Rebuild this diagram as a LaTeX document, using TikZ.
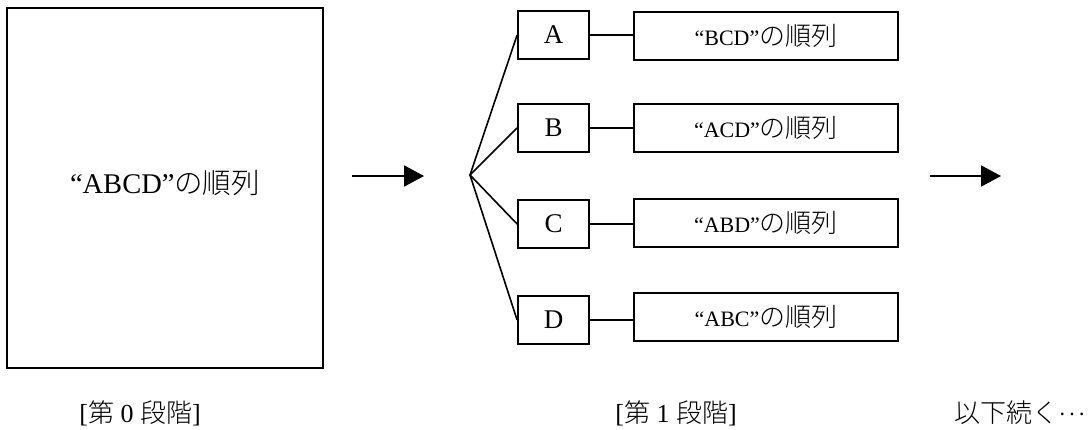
\documentclass[tikz,border=0pt]{standalone}
\usepackage{fontspec}
\setmainfont{Liberation Serif}
\newfontfamily\cjk{Noto Sans CJK JP Light}
\usetikzlibrary{arrows.meta}
\begin{document}
\begin{tikzpicture}[x=1pt,y=-1pt,
  ln/.style={line width=1.6pt},
  bigbox/.style={draw,line width=1.8pt,minimum width=316pt,minimum height=360pt,inner sep=0pt},
  letterbox/.style={draw,line width=1.8pt,minimum width=71pt,minimum height=48pt,inner sep=0pt,font=\fontsize{27}{29}\selectfont},
  permbox/.style={draw,line width=1.8pt,minimum width=264pt,minimum height=48pt,inner sep=0pt,font=\fontsize{22}{24}\selectfont},
  stage/.style={inner sep=0pt,font=\fontsize{26}{28}\selectfont},
  bigarrow/.style={line width=1.8pt,-{Triangle[length=20pt,width=21pt]}}]
\useasboundingbox (0,0) rectangle (1092,429);
% stage 0
\node[bigbox] (big) at (165,188) {};
\node[inner sep=0pt,font=\fontsize{28.5}{30}\selectfont] (bigtxt) at (165,183) {“ABCD”{\cjk\fontsize{28.5}{30}\selectfont の順列}};
% arrows
\coordinate (a1s) at (352,176);
\coordinate (a1e) at (424,176);
\draw[bigarrow] (a1s) -- (a1e);
\coordinate (a2s) at (930,176);
\coordinate (a2e) at (1001,176);
\draw[bigarrow] (a2s) -- (a2e);
% stage 1
\coordinate (fan) at (470,175);
\node[letterbox] (A) at (553.5,35) {A};
\node[letterbox] (B) at (553.5,128) {B};
\node[letterbox] (C) at (553.5,224) {C};
\node[letterbox] (D) at (553.5,320) {D};
\node[permbox] (pA) at (766,36) {“BCD”{\cjk\fontsize{26}{28}\selectfont の順列}};
\node[permbox] (pB) at (766,128) {“ACD”{\cjk\fontsize{26}{28}\selectfont の順列}};
\node[permbox] (pC) at (766,223) {“ABD”{\cjk\fontsize{26}{28}\selectfont の順列}};
\node[permbox] (pD) at (766,317) {“ABC”{\cjk\fontsize{26}{28}\selectfont の順列}};
\foreach \n in {A,B,C,D} {
  \draw[ln] (fan) -- (\n.west);
  \draw[ln] (\n.east) -- (\n.east -| p\n.west);
}
% labels
\node[stage] (s0) at (140,413) {[{\cjk 第} 0 {\cjk 段階}]};
\node[stage] (s1) at (676,413) {[{\cjk 第} 1 {\cjk 段階}]};
\node[stage] (more) at (1020,413) {\cjk 以下続く\raisebox{0.3em}{…}};
\end{tikzpicture}
\end{document}
